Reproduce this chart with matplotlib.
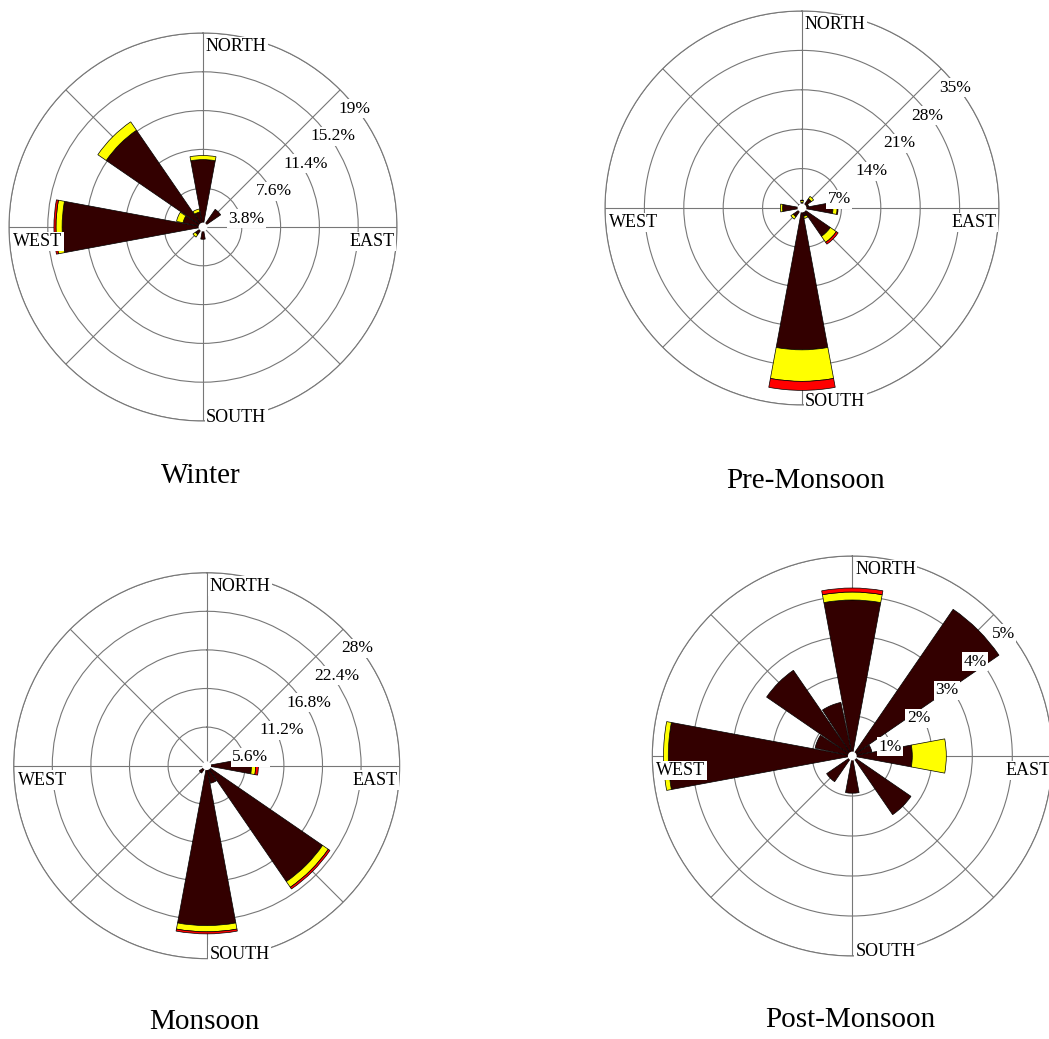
import numpy as np
import matplotlib.pyplot as plt

plt.rcParams['font.family'] = ['Liberation Serif', 'DejaVu Serif']

# 16 wind directions, clockwise from north
directions = ['N', 'NNE', 'NE', 'ENE', 'E', 'ESE', 'SE', 'SSE',
              'S', 'SSW', 'SW', 'WSW', 'W', 'WNW', 'NW', 'NNW']

# frequency (%) per direction for the three speed classes
winter_low = [6.6, 0, 2.1, 0, 0, 0, 0, 0, 1.2, 0, 0.9, 0.4, 13.8, 2.0, 11.5, 1.5]
winter_mid = [0.4, 0, 0, 0, 0, 0, 0, 0, 0, 0, 0.3, 0, 0.6, 0.65, 1.0, 0.3]
winter_high = [0, 0, 0, 0, 0, 0, 0, 0, 0, 0, 0, 0, 0.2, 0, 0, 0]
winter_rings = [3.8, 7.6, 11.4, 15.2, 19]

pre_low = [1.0, 0, 2.0, 1.2, 5.5, 0, 6.1, 1.5, 25.2, 0, 1.9, 0, 3.45, 0, 0.8, 0]
pre_mid = [0.3, 0, 0.5, 0, 0.75, 0, 1.3, 0.4, 5.6, 0, 0.5, 0, 0.4, 0, 0, 0]
pre_high = [0.1, 0, 0, 0, 0.15, 0, 0.4, 0, 1.6, 0, 0, 0, 0, 0, 0, 0]
pre_rings = [7, 14, 21, 28, 35]

mon_low = [0, 0, 0, 0, 6.5, 0, 20.4, 2.6, 23.2, 0, 1.3, 0, 0, 0, 0, 0]
mon_mid = [0, 0, 0, 0, 0.6, 0, 1.0, 0, 0.9, 0, 0, 0, 0, 0, 0, 0]
mon_high = [0, 0, 0, 0, 0.4, 0, 0.3, 0, 0.3, 0, 0, 0, 0, 0, 0, 0]
mon_rings = [5.6, 11.2, 16.8, 22.4, 28]

post_low = [3.9, 0, 4.45, 0.5, 1.5, 0, 1.78, 0, 0.93, 0, 0.78, 0, 4.6, 0.95, 2.6, 1.37]
post_mid = [0.2, 0, 0, 0, 0.85, 0, 0, 0, 0, 0, 0, 0, 0.12, 0, 0, 0]
post_high = [0.1, 0, 0, 0, 0, 0, 0, 0, 0, 0, 0, 0, 0, 0, 0, 0]
post_rings = [1, 2, 3, 4, 5]

class_colors = ['#330000', '#ffff00', '#ff0000']
W, H = 1049, 1039


def rose(cx, cy, R, low, mid, high, rings, title, tx, ty):
    ax = plt.gcf().add_axes([(cx - R) / W, 1 - (cy + R) / H, 2 * R / W, 2 * R / H],
                            projection='polar')
    ax.set_theta_zero_location('N')
    ax.set_theta_direction(-1)
    ax.set_ylim(0, rings[-1])
    ax.set_yticks(rings)
    ax.set_yticklabels([])
    ax.set_xticks(np.deg2rad(np.arange(0, 360, 45)))
    ax.set_xticklabels([])
    ax.tick_params(length=0)
    ax.grid(color='#777777', lw=0.8)
    ax.spines['polar'].set_color('#777777')
    ax.spines['polar'].set_linewidth(0.8)
    ax.set_axisbelow(True)

    theta = np.deg2rad(np.arange(len(directions)) * 22.5)
    width = np.deg2rad(21)
    bottom = np.zeros(len(directions))
    for vals, col in zip([low, mid, high], class_colors):
        vals = np.array(vals, dtype=float)
        m = vals > 0
        ax.bar(theta[m], vals[m], width=width, bottom=bottom[m], color=col,
               edgecolor='black', linewidth=0.5, zorder=3)
        bottom = bottom + vals
    ax.scatter([0], [0], s=40, c='white', edgecolors='none', zorder=4)

    box = dict(boxstyle='square,pad=0.08', fc='white', ec='none')
    r = rings[-1]
    kw = dict(textcoords='offset pixels', fontsize=13, bbox=box, zorder=6,
              annotation_clip=False)
    ax.annotate('NORTH', (0, r), (3, -5), ha='left', va='top', **kw)
    ax.annotate('SOUTH', (np.pi, r), (3, 4), ha='left', va='center', **kw)
    ax.annotate('WEST', (1.5 * np.pi, r), (4, -6), ha='left', va='top', **kw)
    ax.annotate('EAST', (0.5 * np.pi, r), (-2, -6), ha='right', va='top', **kw)
    for v in rings:
        ax.annotate(f'{v:g}%', (np.pi / 4, v), (-2, -19), ha='left', va='center',
                    textcoords='offset pixels', fontsize=12.5, bbox=box, zorder=6,
                    annotation_clip=False)

    plt.gcf().text(tx / W, 1 - ty / H, title, ha='center', va='center', fontsize=21)


fig = plt.figure(figsize=(W / 100, H / 100), dpi=100)
rose(203, 227, 194, winter_low, winter_mid, winter_high, winter_rings, 'Winter', 201, 476)
rose(802, 208, 197, pre_low, pre_mid, pre_high, pre_rings, 'Pre-Monsoon', 806, 481)
rose(206.7, 765.7, 193, mon_low, mon_mid, mon_high, mon_rings, 'Monsoon', 204, 1022)
rose(852.3, 756, 200, post_low, post_mid, post_high, post_rings, 'Post-Monsoon', 850, 1020)
fig.savefig('out.png', dpi=100)
